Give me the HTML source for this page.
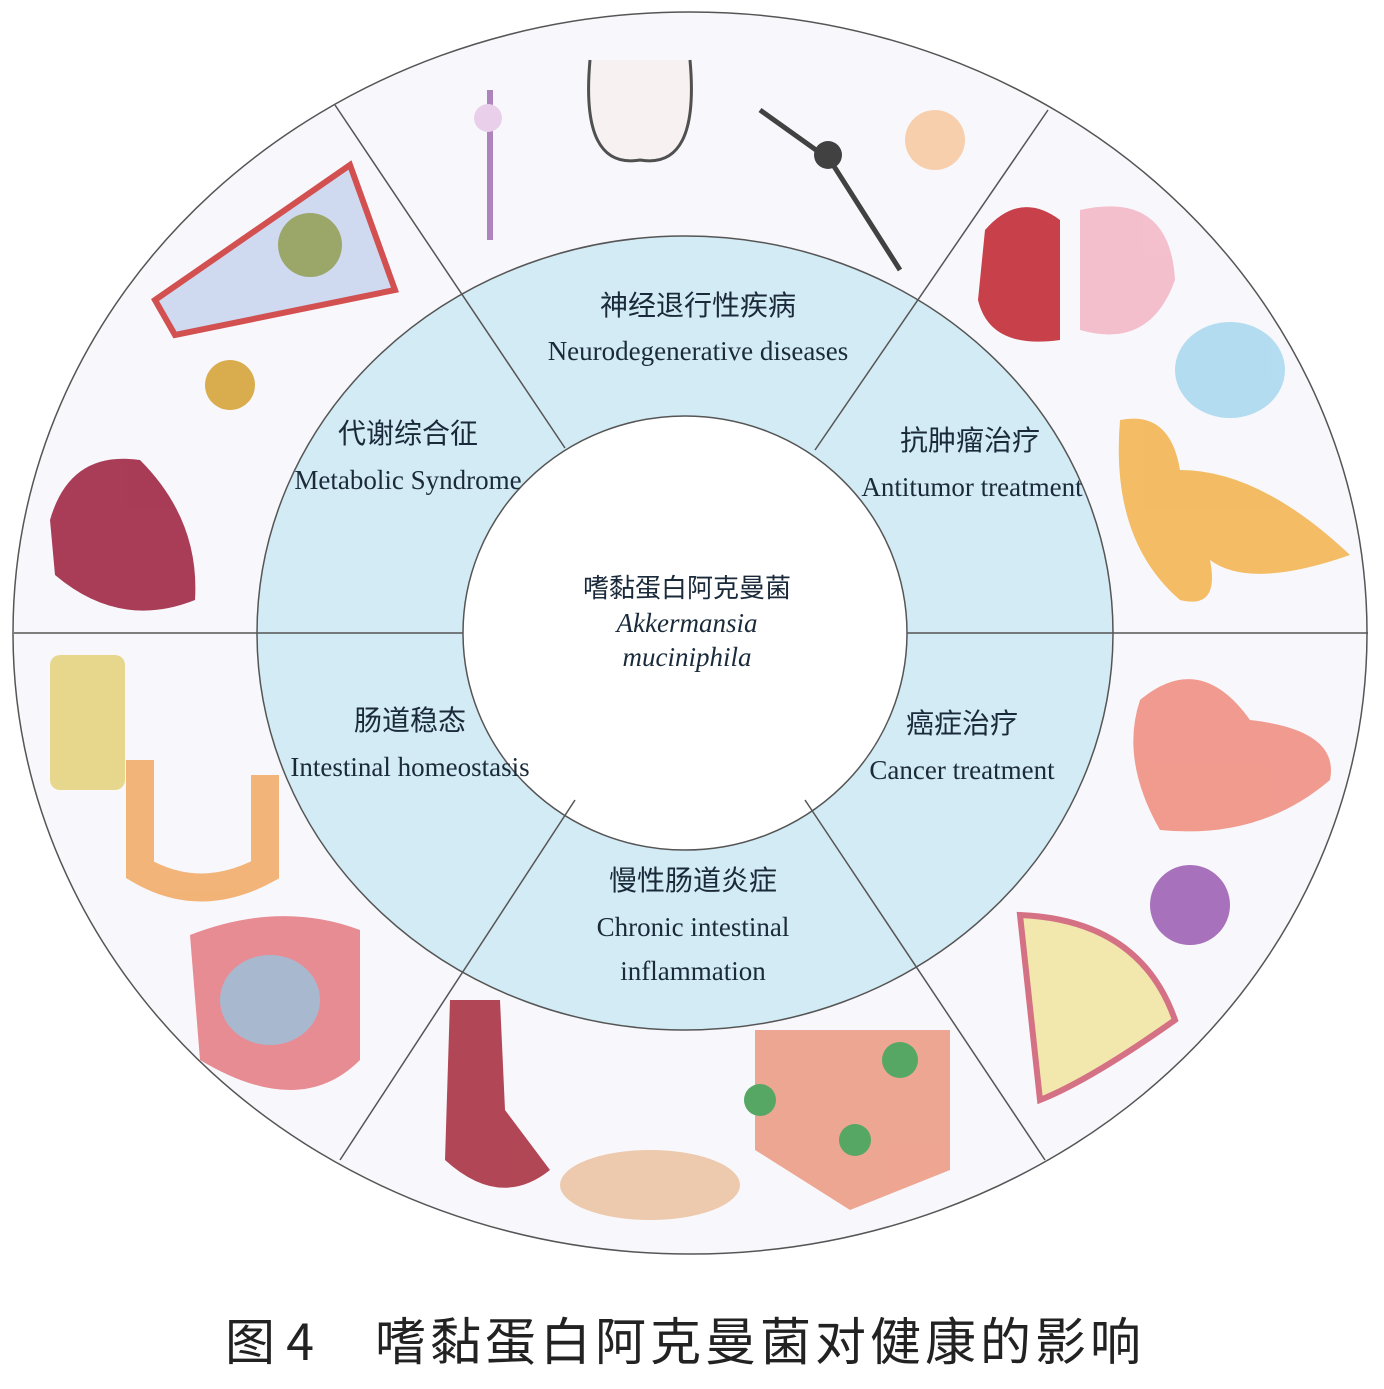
<!DOCTYPE html>
<html><head><meta charset="utf-8"><style>
body{margin:0;background:#fff;width:1384px;height:1384px;overflow:hidden}
svg text{font-family:"Liberation Serif","Noto Serif CJK SC",serif;fill:#1a2a3a}
.zh{font-family:"Liberation Serif","Noto Sans CJK SC",sans-serif;font-size:28px}
.en{font-size:27px}
</style></head><body>
<svg width="1384" height="1384" viewBox="0 0 1384 1384">
<rect width="1384" height="1384" fill="#fff"/>
<ellipse cx="690" cy="633" rx="677" ry="621" fill="#f8f8fc" stroke="#555" stroke-width="1.5"/>
<ellipse cx="685" cy="633" rx="428" ry="397" fill="#d3ebf4" stroke="#555" stroke-width="1.5"/>
<ellipse cx="685" cy="633" rx="222" ry="217" fill="#fff" stroke="#555" stroke-width="1.5"/>
<g stroke="#555" stroke-width="1.5">
<line x1="565" y1="448" x2="335" y2="105"/>
<line x1="815" y1="450" x2="1048" y2="110"/>
<line x1="907" y1="633" x2="1368" y2="633"/>
<line x1="14" y1="633" x2="463" y2="633"/>
<line x1="575" y1="800" x2="340" y2="1160"/>
<line x1="805" y1="800" x2="1045" y2="1160"/>
</g>
<g opacity="0.85">
<path d="M155 300 L350 165 L395 290 L175 335 Z" fill="#c9d4ef" stroke="#c33" stroke-width="6"/>
<circle cx="310" cy="245" r="32" fill="#8a9a50"/>
<circle cx="230" cy="385" r="25" fill="#d4a030"/>
<path d="M50 520 Q70 450 140 460 Q200 520 195 600 Q120 630 55 575 Z" fill="#9b1c3a"/>
<path d="M490 90 L490 240" stroke="#a070b0" stroke-width="6"/>
<circle cx="488" cy="118" r="14" fill="#e8c8e8"/>
<path d="M590 60 Q580 170 640 160 Q700 170 690 60" fill="#f7f0f0" stroke="#333" stroke-width="3"/>
<path d="M760 110 L830 160 L900 270" stroke="#222" stroke-width="5" fill="none"/>
<circle cx="828" cy="155" r="14" fill="#222"/>
<circle cx="935" cy="140" r="30" fill="#f8c8a0"/>
<path d="M985 230 Q1020 190 1060 220 L1060 340 Q990 350 978 300 Z" fill="#c0202c"/>
<path d="M1080 210 Q1170 190 1175 280 Q1150 350 1080 330 Z" fill="#f3b6c4"/>
<ellipse cx="1230" cy="370" rx="55" ry="48" fill="#a8d8ee"/>
<path d="M1120 420 Q1170 410 1180 470 Q1260 470 1350 555 Q1250 590 1210 560 Q1220 610 1180 600 Q1110 540 1120 420Z" fill="#f3b24a"/>
<path d="M1140 700 Q1200 650 1250 720 Q1340 730 1330 780 Q1260 840 1160 830 Q1120 760 1140 700Z" fill="#f08b7c"/>
<circle cx="1190" cy="905" r="40" fill="#9a5ab0"/>
<path d="M1020 915 Q1140 920 1175 1020 Q1090 1080 1040 1100 Z" fill="#f1e6a0" stroke="#d05a70" stroke-width="6"/>
<rect x="50" y="655" width="75" height="135" rx="10" fill="#e4d27a"/>
<path d="M140 760 L140 870 Q200 905 265 870 L265 775" stroke="#f1a860" stroke-width="28" fill="none"/>
<path d="M190 935 Q280 900 360 930 L360 1060 Q300 1120 200 1060 Z" fill="#e67a82"/>
<ellipse cx="270" cy="1000" rx="50" ry="45" fill="#9aaec8"/>
<path d="M450 1000 L500 1000 L505 1110 L550 1170 Q500 1210 445 1160 Z" fill="#a52838"/>
<ellipse cx="650" cy="1185" rx="90" ry="35" fill="#ecc2a0"/>
<path d="M755 1030 L950 1030 L950 1170 L850 1210 L755 1150 Z" fill="#ec9880"/>
<circle cx="900" cy="1060" r="18" fill="#3a9a4a"/><circle cx="760" cy="1100" r="16" fill="#3a9a4a"/><circle cx="855" cy="1140" r="16" fill="#3a9a4a"/>
</g>
<text class="zh" x="698" y="315" text-anchor="middle">神经退行性疾病</text>
<text class="en" x="698" y="360" text-anchor="middle">Neurodegenerative diseases</text>
<text class="zh" x="408" y="443" text-anchor="middle">代谢综合征</text>
<text class="en" x="408" y="489" text-anchor="middle">Metabolic Syndrome</text>
<text class="zh" x="970" y="450" text-anchor="middle">抗肿瘤治疗</text>
<text class="en" x="972" y="496" text-anchor="middle">Antitumor treatment</text>
<text class="zh" x="410" y="730" text-anchor="middle">肠道稳态</text>
<text class="en" x="410" y="776" text-anchor="middle">Intestinal homeostasis</text>
<text class="zh" x="962" y="733" text-anchor="middle">癌症治疗</text>
<text class="en" x="962" y="779" text-anchor="middle">Cancer treatment</text>
<text class="zh" x="693" y="890" text-anchor="middle">慢性肠道炎症</text>
<text class="en" x="693" y="936" text-anchor="middle">Chronic intestinal</text>
<text class="en" x="693" y="980" text-anchor="middle">inflammation</text>
<text class="zh" x="687" y="597" text-anchor="middle" style="font-size:26px">嗜黏蛋白阿克曼菌</text>
<text class="en" x="687" y="632" text-anchor="middle" font-style="italic">Akkermansia</text>
<text class="en" x="687" y="666" text-anchor="middle" font-style="italic">muciniphila</text>
<text x="225" y="1360" style="font-family:'Noto Sans CJK SC',sans-serif;font-size:50px;fill:#222">图 4</text>
<text x="375" y="1360" style="font-family:'Noto Sans CJK SC',sans-serif;font-size:51px;letter-spacing:4px;fill:#222">嗜黏蛋白阿克曼菌对健康的影响</text>
</svg>
</body></html>
